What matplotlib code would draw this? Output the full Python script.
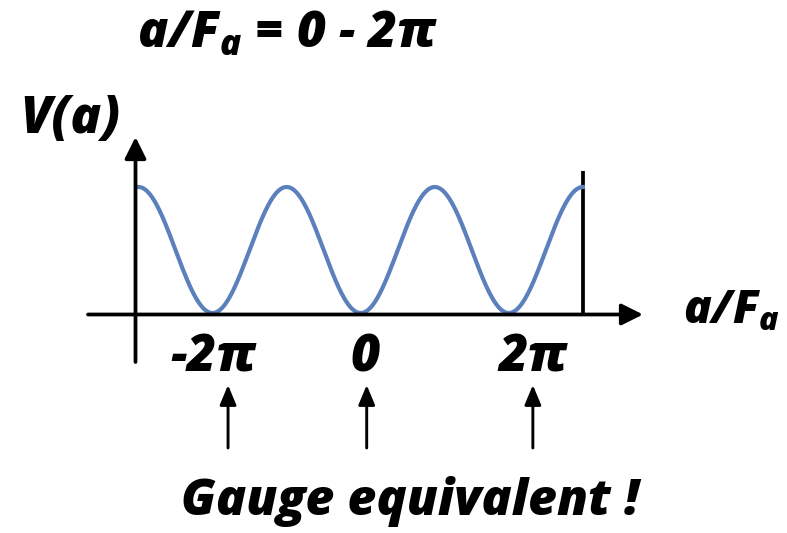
import numpy as np
import matplotlib.pyplot as plt

plt.rcParams['font.family'] = ['Open Sans', 'Lato', 'DejaVu Sans']
plt.rcParams['mathtext.fontset'] = 'custom'
plt.rcParams['mathtext.it'] = 'Open Sans:italic:heavy'
plt.rcParams['mathtext.rm'] = 'Open Sans:italic:heavy'

# periodic potential V(a) = A (1 - cos a), three periods
a_start, a_end = -3 * np.pi, 3 * np.pi
amplitude = 1.0
tick_values = [-2 * np.pi, 0.0, 2 * np.pi]
tick_labels = ["-2π", "0", "2π"]

W, H = 787, 533
fig = plt.figure(figsize=(W / 100, H / 100), dpi=100)
ax = fig.add_axes([0, 0, 1, 1])
ax.axis('off')

# a = 0 sits at pixel column x0, V = 0 at pixel row y0
x0, sx = 360.7, 23.58
y0, sy = 313.0, 63.0
ax.set_xlim(-x0 / sx, (W - x0) / sx)
ax.set_ylim(-(H - y0) / sy, y0 / sy)


def px(x):
    return (x - x0) / sx


def py(y):
    return (y0 - y) / sy


a = np.linspace(a_start, a_end, 800)
v = amplitude * (1 - np.cos(a))
ax.plot(a, v, color='#5b80bc', lw=3.0, zorder=3)

# axes with arrow heads
big_head = dict(arrowstyle='-|>,head_length=1.3,head_width=0.65',
                color='black', lw=2.7, mutation_scale=10,
                shrinkA=0, shrinkB=0)
ax.annotate('', xy=(px(643), py(314.5)), xytext=(px(88), py(314.5)),
            arrowprops=big_head)
ax.annotate('', xy=(px(135.5), py(137)), xytext=(px(135.5), py(362)),
            arrowprops=big_head)
ax.plot([a_end, a_end], [py(314.5), py(171)], color='black', lw=2.7,
        solid_capstyle='butt', zorder=2)

font = dict(fontsize=36.5, fontweight=800, fontstyle='italic')

# labels under the minima and the arrows pointing at them
label_dx = [1, 4, 24]
arrow_dx = [15.5, 6, 24]
small_head = dict(arrowstyle='-|>,head_length=1.2,head_width=0.5',
                  color='black', lw=2.1, mutation_scale=10,
                  shrinkA=0, shrinkB=0)
for t, lab, dl, da in zip(tick_values, tick_labels, label_dx, arrow_dx):
    ax.text(t + dl / sx, py(372), lab, ha='center', va='baseline', **font)
    ax.annotate('', xy=(t + da / sx, py(385)), xytext=(t + da / sx, py(448)),
                arrowprops=small_head)

ax.text(px(137), py(48), r"$a/F_a$ = 0 - 2π", ha='left', va='baseline',
        **{**font, 'fontsize': 36})
ax.text(px(20), py(133), "V(a)", ha='left', va='baseline', **font)
ax.text(px(683), py(323), r"$a/F_a$", ha='left', va='baseline',
        **{**font, 'fontsize': 33})
ax.text(px(410), py(515), "Gauge equivalent !", ha='center', va='baseline',
        **{**font, 'fontsize': 36})

fig.savefig('out.png', dpi=100)
